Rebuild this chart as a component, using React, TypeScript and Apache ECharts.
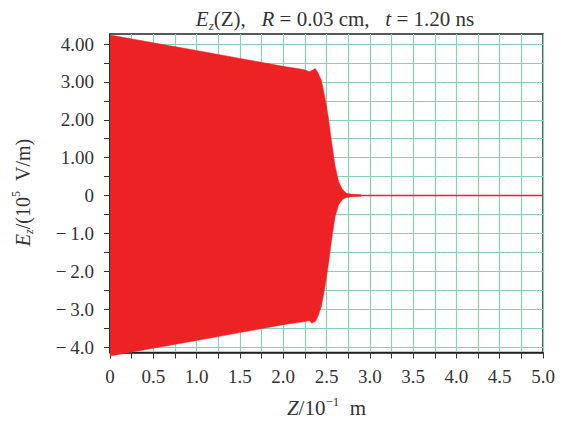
import React, { useEffect, useRef } from "react";
import * as echarts from "echarts";

// Envelope of the oscillating field E_z (in 10^5 V/m) versus Z (in 10^-1 m)
const zEnvelope = [0, 0.5, 1.0, 1.5, 2.0, 2.25, 2.3, 2.33, 2.37, 2.4, 2.44, 2.48, 2.52, 2.56, 2.6, 2.64, 2.68, 2.73, 2.8, 2.9];
const upperEnvelope = [4.24, 4.03, 3.83, 3.62, 3.41, 3.32, 3.27, 3.3, 3.35, 3.25, 3.05, 2.61, 2.08, 1.39, 0.77, 0.37, 0.17, 0.06, 0.03, 0.02];
const lowerEnvelope = [-4.24, -4.03, -3.83, -3.62, -3.41, -3.33, -3.3, -3.37, -3.33, -3.2, -2.93, -2.45, -1.85, -1.15, -0.55, -0.25, -0.11, -0.05, -0.03, -0.02];
// Axis-level trace along Z (the flat tail after the pulse)
const zTail = [0, 5.0];
const tailValues = [0, 0];

const xTickValues = [0, 0.5, 1, 1.5, 2, 2.5, 3, 3.5, 4, 4.5, 5];
const xTickLabels = ["0", "0.5", "1.0", "1.5", "2.0", "2.5", "3.0", "3.5", "4.0", "4.5", "5.0"];
const yTickValues = [-4, -3, -2, -1, 0, 1, 2, 3, 4];
const yTickLabels = ["\u2212\u20094.0", "\u2212\u20093.0", "\u2212\u20092.0", "\u2212\u20091.0", "0", "1.00", "2.00", "3.00", "4.00"];

const FONT = "Liberation Serif";
const RED = "#ed2224";
const GRID_GREEN = "#86d3b1";
const INK = "#333333";

function lookup(values: number[], labels: string[], v: number) {
  for (let i = 0; i < values.length; i++) {
    if (Math.abs(values[i] - v) < 1e-6) return labels[i];
  }
  return "";
}

function rich(size: number, small: number) {
  return {
    n: { fontFamily: FONT, fontSize: size, fontWeight: "normal", color: INK, lineHeight: size + 5 },
    i: { fontFamily: FONT, fontSize: size, fontWeight: "normal", fontStyle: "italic", color: INK, lineHeight: size + 5 },
    sub: { fontFamily: FONT, fontSize: small, fontWeight: "normal", fontStyle: "italic", color: INK, lineHeight: small + 5, verticalAlign: "bottom" },
    sup: { fontFamily: FONT, fontSize: small, fontWeight: "normal", color: INK, lineHeight: small + 3, verticalAlign: "top" },
  };
}

export default function App() {
  const ref = useRef<HTMLDivElement>(null);
  useEffect(() => {
    if (!ref.current) return;
    const chart = echarts.init(ref.current, null, { renderer: "svg" });
    const upper = zEnvelope.map((z, i) => [z, upperEnvelope[i]]);
    const lower = zEnvelope.map((z, i) => [z, lowerEnvelope[i]]);
    const tail = zTail.map((z, i) => [z, tailValues[i]]);
    const L = 110, R = 39;
    chart.setOption({
      animation: false,
      backgroundColor: "#ffffff",
      title: {
        text: "{i|E}{sub|z}{n|(Z),\u2002 }{i|R}{n| = 0.03 cm,\u2002 }{i|t}{n| = 1.20 ns}",
        left: 330,
        top: 1,
        textAlign: "center",
        textStyle: { fontWeight: "normal", rich: rich(21, 13) },
      },
      grid: [
        { left: L, right: R, top: 44, bottom: 76, containLabel: false },
        { left: L, right: R, top: 34, bottom: 66, show: true, borderColor: "#222", borderWidth: 1.5, backgroundColor: "transparent", containLabel: false },
      ],
      xAxis: [
        { gridIndex: 0, type: "value", min: 0, max: 5, show: false },
        {
          gridIndex: 1,
          type: "value",
          min: 0,
          max: 5,
          interval: 0.5,
          name: "{i|Z}{n|/10}{sup|\u22121}{n|\u2002m}",
          nameLocation: "middle",
          nameGap: 42,
          nameTextStyle: { rich: rich(21, 13) },
          axisLine: { show: true, onZero: false, lineStyle: { color: "#222", width: 1.5 } },
          axisTick: { show: true, inside: false, length: 6, lineStyle: { color: INK } },
          minorTick: { show: true, splitNumber: 2, length: 6, lineStyle: { color: INK } },
          splitLine: { show: true, lineStyle: { color: GRID_GREEN, width: 1.2 } },
          minorSplitLine: { show: true, lineStyle: { color: GRID_GREEN, width: 1.2 } },
          axisLabel: {
            margin: 14,
            fontFamily: FONT,
            fontSize: 19,
            color: INK,
            formatter: (v: number) => lookup(xTickValues, xTickLabels, v),
          },
        },
      ],
      yAxis: [
        {
          gridIndex: 0,
          type: "value",
          min: -4,
          max: 4,
          interval: 1,
          axisLine: { show: false },
          axisTick: { show: true, inside: false, length: 6, lineStyle: { color: INK } },
          minorTick: { show: true, splitNumber: 2, length: 6, lineStyle: { color: INK } },
          splitLine: { show: true, lineStyle: { color: GRID_GREEN, width: 1.2 } },
          minorSplitLine: { show: true, lineStyle: { color: GRID_GREEN, width: 1.2 } },
          axisLabel: {
            margin: 16,
            fontFamily: FONT,
            fontSize: 19,
            color: INK,
            formatter: (v: number) => lookup(yTickValues, yTickLabels, v),
          },
          name: "{i|E}{sub|z}{n|/(10}{sup|5}{n|\u2002V/m)}",
          nameLocation: "middle",
          nameRotate: 90,
          nameGap: 75,
          nameTextStyle: { rich: rich(20, 12), padding: [0, 0, 0, 6] },
        },
        {
          gridIndex: 1,
          type: "value",
          min: -1,
          max: 1,
          axisLine: { show: true, onZero: false, lineStyle: { color: "#222", width: 1.5 } },
          axisTick: { show: false },
          axisLabel: { show: false },
          splitLine: { show: false },
        },
      ],
      series: [
        {
          type: "line",
          xAxisIndex: 0,
          yAxisIndex: 0,
          data: upper,
          symbol: "none",
          clip: false,
          lineStyle: { width: 0.5, color: RED },
          areaStyle: { color: RED, opacity: 1, origin: 0 },
          z: 3,
        },
        {
          type: "line",
          xAxisIndex: 0,
          yAxisIndex: 0,
          data: lower,
          symbol: "none",
          clip: false,
          lineStyle: { width: 0.5, color: RED },
          areaStyle: { color: RED, opacity: 1, origin: 0 },
          z: 3,
        },
        {
          type: "line",
          xAxisIndex: 0,
          yAxisIndex: 0,
          data: tail,
          symbol: "none",
          clip: false,
          lineStyle: { width: 1.5, color: RED },
          z: 4,
        },
      ],
    });
    return () => chart.dispose();
  }, []);
  return <div ref={ref} style={{ width: 582, height: 423, margin: -8 }} />;
}
